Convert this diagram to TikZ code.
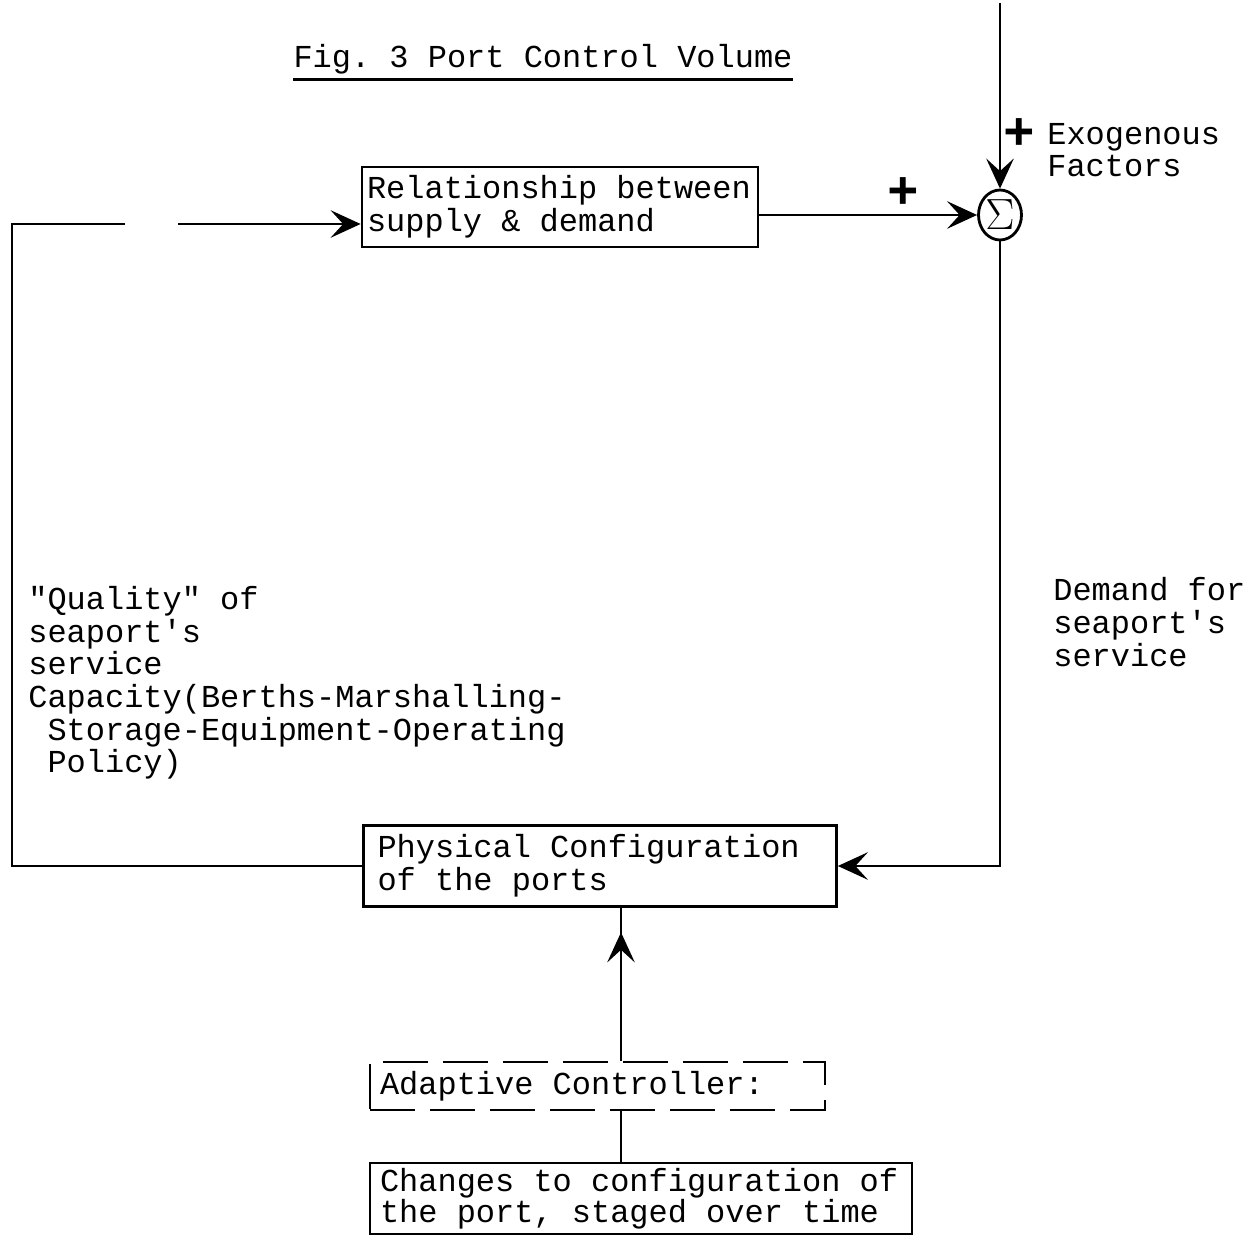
\documentclass[tikz,border=0pt]{standalone}
\usepackage{fontspec}
\setmainfont{Liberation Mono}[Ligatures=TeXOff, WordSpace={1,0,0}, PunctuationSpace=WordSpace]
\usetikzlibrary{arrows.meta, positioning, shapes.geometric, decorations.markings}
\frenchspacing

\begin{document}
\begin{tikzpicture}[
    x=0.02cm, y=-0.02cm,
    font=\fontsize{18.2}{18.6}\selectfont,
    block/.style={draw, line width=1.6pt, align=flush left, inner ysep=0pt,
                  execute at begin node={\spaceskip=0.6em\relax\xspaceskip=0.6em\relax}},
    conn/.style={line width=1.6pt},
    arr/.style={-{Stealth[length=0.6cm, width=0.55cm, inset=0.25cm]}, line width=1.6pt},
    sgn/.style={font=\fontsize{30}{30}\selectfont\bfseries, inner sep=0pt},
    lbl/.style={align=left, inner sep=0pt, anchor=west}
]
\useasboundingbox (0,0) rectangle (1254,1236);
% Title
\node[inner sep=0pt] (title) at (543,59) {Fig.\ 3 Port Control Volume};
\draw[line width=1.2pt] ([yshift=-3pt]title.south west) -- ([yshift=-3pt]title.south east);
% Blocks
\node[block, text width=7.72cm, inner xsep=0.1cm, minimum height=1.6cm] (rel) at (560,207)
    {Relationship between\\supply \& demand};
\node[draw, line width=1.6pt, ellipse, minimum width=0.86cm, minimum height=1cm, inner sep=0pt,
      font=\Huge] (sig) at (1000,215) {$\Sigma$};
\node[block, text width=8.9cm, inner xsep=0.28cm, minimum height=1.62cm] (phys) at (600,866)
    {Physical Configuration\\of the ports};
\node[block, dash pattern=on 0.9cm off 0.3cm, text width=8.7cm, inner xsep=0.2cm, minimum height=0.96cm] (adapt) at (597.5,1086)
    {Adaptive Controller:};
\node[block, text width=10.44cm, inner xsep=0.2cm, minimum height=1.42cm,
      font=\fontsize{18.2}{16.8}\selectfont] (chg) at (641,1198.5)
    {Changes to configuration of\\the port, staged over time};
% Labels
\node[lbl] (exotxt) at (1047,150) {Exogenous\\Factors};
\node[lbl] (dem) at (1053,622) {Demand for\\seaport's\\service};
\node[lbl] (qual) at (28,683) {"Quality" of\\seaport's\\service\\Capacity(Berths-Marshalling-\\\hspace*{0.6em}Storage-Equipment-Operating\\\hspace*{0.6em}Policy)};
\node[sgn] (p1) at (1019,134) {+};
\node[sgn] (p2) at (903,193) {+};
% Free ends
\coordinate (exo) at (1000,3);
\coordinate (lc) at (12,224);
\coordinate (gapL) at (125,224);
\coordinate (gapR) at (178,224);
\coordinate (ctl) at (621,0);
% Connectors
\draw[arr] (exo) -- (sig.north);
\draw[arr] (rel.east |- sig.west) -- (sig.west);
\draw[arr] (sig.south) |- (phys.east);
\draw[conn] (phys.west) -| (lc) -- (gapL);
\draw[arr] (gapR) -- (rel.west |- gapR);
\draw[conn, postaction={decorate}, decoration={markings,
      mark=at position 0.84 with {\arrow{Stealth[length=0.6cm, width=0.55cm, inset=0.25cm]}}}]
    (adapt.north -| ctl) -- (phys.south -| ctl);
\draw[conn] (adapt.south -| ctl) -- (chg.north -| ctl);
\end{tikzpicture}
\end{document}
